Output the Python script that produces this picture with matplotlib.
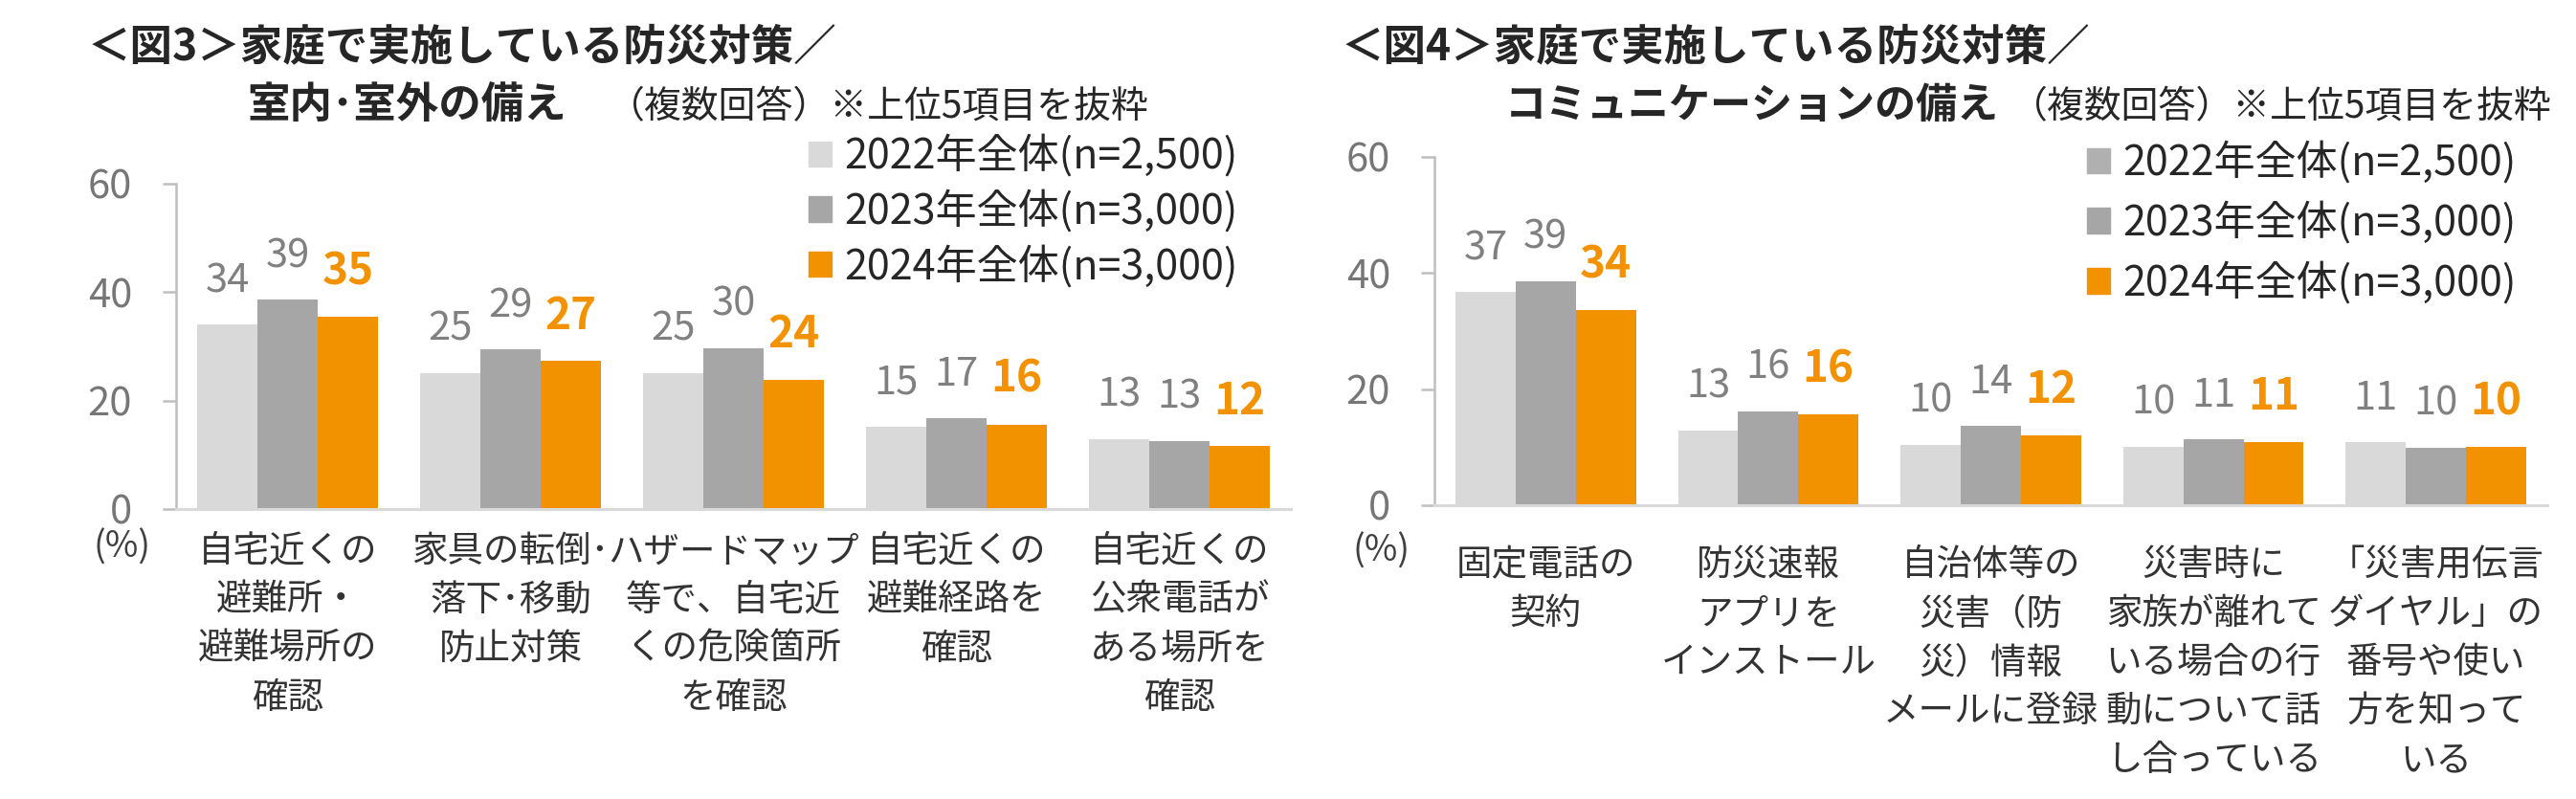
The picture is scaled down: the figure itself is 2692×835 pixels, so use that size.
import matplotlib.pyplot as plt
from matplotlib.patches import Patch
import numpy as np

plt.rcParams['font.family'] = ['Noto Sans CJK JP', 'DejaVu Sans']

# データ
series = ['2022年全体(n=2,500)', '2023年全体(n=3,000)', '2024年全体(n=3,000)']

cats3 = ['自宅近くの\n避難所・\n避難場所の\n確認',
         '家具の転倒･\n落下･移動\n防止対策',
         'ハザードマップ\n等で、自宅近\nくの危険箇所\nを確認',
         '自宅近くの\n避難経路を\n確認',
         '自宅近くの\n公衆電話が\nある場所を\n確認']
v3_2022 = [34.0, 25.1, 25.1, 15.2, 12.9]
v3_2023 = [38.6, 29.4, 29.7, 16.8, 12.6]
v3_2024 = [35.4, 27.3, 23.9, 15.6, 11.6]

cats4 = ['固定電話の\n契約',
         '防災速報\nアプリを\nインストール',
         '自治体等の\n災害（防\n災）情報\nメールに登録',
         '災害時に\n家族が離れて\nいる場合の行\n動について話\nし合っている',
         '「災害用伝言\nダイヤル」の\n番号や使い\n方を知って\nいる']
v4_2022 = [36.7, 12.9, 10.4, 10.1, 10.9]
v4_2023 = [38.6, 16.2, 13.6, 11.4, 9.9]
v4_2024 = [33.6, 15.7, 12.1, 10.9, 10.1]

yticks = [0, 20, 40, 60]

title3 = '＜図3＞家庭で実施している防災対策／'
title3b = '室内･室外の備え'
title4 = '＜図4＞家庭で実施している防災対策／'
title4b = 'コミュニケーションの備え'
note = '（複数回答）※上位5項目を抜粋'

bar_colors = ['#d9d9d9', '#a6a6a6', '#f39200']
dark = '#262626'

W, H = 2692, 835
fig = plt.figure(figsize=(W / 100, H / 100), dpi=100)


def fx(px):
    return px / W


def fy(py):
    return 1 - py / H


def draw(left, right, top, bottom, cats, vals, leg_colors, leg_xy, leg_sp, xpad, pct_xy):
    ax = fig.add_axes([fx(left), fy(bottom), fx(right - left), fy(top) - fy(bottom)])
    x = np.arange(len(cats))
    w = 0.27
    for i, v in enumerate(vals):
        ax.bar(x + (i - 1) * w, v, w, color=bar_colors[i], zorder=2)
        for xi, vi in zip(x + (i - 1) * w, v):
            if i == 2:
                ax.annotate(f'{vi:.0f}', (xi, vi), xytext=(0, 17), textcoords='offset points',
                            ha='center', va='bottom', fontsize=33, fontweight='bold',
                            color=bar_colors[2])
            else:
                ax.annotate(f'{vi:.0f}', (xi, vi), xytext=(0, 18), textcoords='offset points',
                            ha='center', va='bottom', fontsize=30, color='#808080')
    ax.set_xlim(-0.5, len(cats) - 0.5)
    ax.set_ylim(0, 60)
    ax.set_yticks(yticks)
    ax.set_xticks(x, cats)
    for s in ['top', 'right']:
        ax.spines[s].set_visible(False)
    ax.spines['left'].set_color('#bfbfbf')
    ax.spines['left'].set_linewidth(1.8)
    ax.spines['bottom'].set_color('#d9d9d9')
    ax.spines['bottom'].set_linewidth(2.2)
    ax.tick_params(axis='y', length=10, width=1.8, color='#bfbfbf', pad=23,
                   labelsize=30, labelcolor='#767676')
    ax.tick_params(axis='x', length=0, pad=xpad, labelsize=27, labelcolor='#333333')
    for t in ax.get_xticklabels():
        t.set_linespacing(1.40)
    handles = [Patch(color=c) for c in leg_colors]
    ax.legend(handles, series, loc='upper left', bbox_to_anchor=(fx(leg_xy[0]), fy(leg_xy[1])),
              bbox_transform=fig.transFigure, frameon=False, fontsize=31,
              handlelength=0.56, handleheight=0.56, handletextpad=0.3,
              labelspacing=leg_sp, borderpad=0, borderaxespad=0, labelcolor=dark)
    fig.text(fx(pct_xy[0]), fy(pct_xy[1]), '(%)', ha='center', va='center',
             fontsize=27, color='#404040')
    return ax


draw(184, 1349, 192, 532, cats3, [v3_2022, v3_2023, v3_2024],
     bar_colors, (845, 141), 0.3, 18, (128, 572))
draw(1499, 2662, 164, 528, cats4, [v4_2022, v4_2023, v4_2024],
     ['#b0b0b0', '#a6a6a6', '#f39200'], (2181, 148), 0.42, 31, (1444, 576))

# タイトル
fig.canvas.draw()
r = fig.canvas.get_renderer()
for x1, x2, t1, t2, xn, fs in [(92, 258, title3, title3b, 635, 32),
                               (1402, 1573, title4, title4b, 2062, 31)]:
    fig.text(fx(x1), fy(62), t1, fontsize=32, fontweight='bold', color=dark, va='baseline')
    tb = fig.text(fx(x2), fy(123), t2, fontsize=fs, fontweight='bold', color=dark, va='baseline')
    end = tb.get_window_extent(r).x1
    fig.text(max(end + 12, xn) / W, fy(123), note, fontsize=28, color=dark, va='baseline')

fig.savefig('out.png', dpi=100)
